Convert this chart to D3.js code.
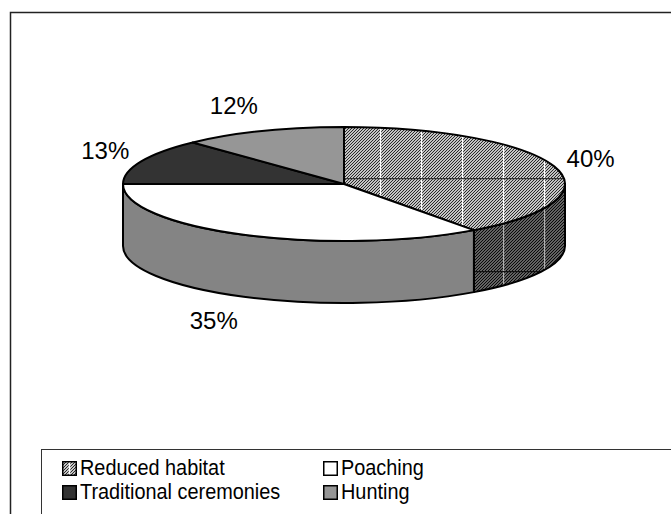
<!DOCTYPE html>
<html>
<head>
<meta charset="utf-8">
<script src="https://cdn.jsdelivr.net/npm/d3@7"></script>
<style>
  html, body { margin: 0; padding: 0; background: #fff; }
  svg { display: block; }
</style>
</head>
<body>
<svg id="chart" width="671" height="514"></svg>
<script>
// Causes of decline, share of total (%)
const categories = ["Reduced habitat", "Poaching", "Traditional ceremonies", "Hunting"];
const values = [40, 35, 13, 12];
const labels = values.map(v => v + "%");

const svg = d3.select("#chart");
const W = 671, H = 514;

// 3D pie geometry
const cx = 344, cy = 184, rx = 221, ry = 57, depth = 62;

const defs = svg.append("defs");

// fine diagonal hatch
function hatch(id, bg, fg) {
  const p = defs.append("pattern").attr("id", id)
    .attr("patternUnits", "userSpaceOnUse").attr("width", 3).attr("height", 3);
  p.append("rect").attr("width", 3).attr("height", 3).attr("fill", bg);
  p.append("path").attr("d", "M-1,1 l2,-2 M0,3 l3,-3 M2,4 l2,-2")
    .attr("stroke", fg).attr("stroke-width", 1);
}
hatch("hatchTop", "#c4c4c4", "#2a2a2a");
hatch("hatchSide", "#626262", "#0a0a0a");

// coarse plaid overlay lines
function plaid(id, vCol, hCol) {
  const p = defs.append("pattern").attr("id", id)
    .attr("patternUnits", "userSpaceOnUse").attr("width", 41).attr("height", 93)
    .attr("x", 11).attr("y", 85);
  p.append("line").attr("x1", 0.5).attr("x2", 0.5).attr("y1", 0).attr("y2", 93)
    .attr("stroke", vCol).attr("stroke-width", 1.3);
  p.append("line").attr("x1", 0).attr("x2", 41).attr("y1", 0.5).attr("y2", 0.5)
    .attr("stroke", hCol).attr("stroke-width", 1.3);
}
plaid("plaidTop", "#ffffff", "#333");
plaid("plaidSide", "#b0b0b0", "#111");

const topFill = ["url(#hatchTop)", "#ffffff", "#333333", "#969696"];
const topOverlay = ["url(#plaidTop)", null, null, null];
const sideFill = ["url(#hatchSide)", "#848484", "#262626", "#6e6e6e"];
const sideOverlay = ["url(#plaidSide)", null, null, null];

// outer frame
svg.append("rect").attr("x", 10.5).attr("y", 12.5).attr("width", W).attr("height", H)
  .attr("fill", "none").attr("stroke", "#222").attr("stroke-width", 1.5);

const pie = d3.pie().sort(null).startAngle(0).endAngle(2 * Math.PI);
const arcs = pie(values);

const px = a => cx + rx * Math.sin(a);
const py = a => cy - ry * Math.cos(a);

function topPath(d) {
  const p = d3.path();
  p.moveTo(cx, cy);
  p.lineTo(px(d.startAngle), py(d.startAngle));
  const large = (d.endAngle - d.startAngle) > Math.PI ? 1 : 0;
  return p.toString() +
    `A${rx},${ry} 0 ${large} 1 ${px(d.endAngle)},${py(d.endAngle)}Z`;
}

function sidePath(a0, a1) {
  const large = (a1 - a0) > Math.PI ? 1 : 0;
  return `M${px(a0)},${py(a0)}` +
    `A${rx},${ry} 0 ${large} 1 ${px(a1)},${py(a1)}` +
    `L${px(a1)},${py(a1) + depth}` +
    `A${rx},${ry} 0 ${large} 0 ${px(a0)},${py(a0) + depth}Z`;
}

const g = svg.append("g");

// front walls
arcs.forEach((d, i) => {
  const a0 = Math.max(d.startAngle, Math.PI / 2);
  const a1 = Math.min(d.endAngle, 3 * Math.PI / 2);
  if (a1 <= a0) return;
  const s = sidePath(a0, a1);
  g.append("path").attr("d", s).attr("fill", sideFill[i]);
  if (sideOverlay[i]) g.append("path").attr("d", s).attr("fill", sideOverlay[i]);
  g.append("path").attr("d", s).attr("fill", "none")
    .attr("stroke", "#000").attr("stroke-width", 2).attr("stroke-linejoin", "round");
});

// top faces
arcs.forEach((d, i) => {
  const t = topPath(d);
  g.append("path").attr("d", t).attr("fill", topFill[i]);
  if (topOverlay[i]) g.append("path").attr("d", t).attr("fill", topOverlay[i]);
  g.append("path").attr("d", t).attr("fill", "none")
    .attr("stroke", "#000").attr("stroke-width", 2).attr("stroke-linejoin", "round");
});

// percentage labels placed outside the rim
const lrx = 234, lry = 84;
arcs.forEach((d, i) => {
  const m = (d.startAngle + d.endAngle) / 2;
  const sx = Math.sin(m), cz = Math.cos(m);
  const x = cx + lrx * sx;
  const y = cy - lry * cz + (cz < 0 ? depth : 0);
  svg.append("text")
    .attr("x", x).attr("y", y + 8.6)
    .attr("text-anchor", sx >= 0 ? "start" : "end")
    .attr("font-family", "'Liberation Sans', Arial, sans-serif")
    .attr("font-size", 24).attr("fill", "#000")
    .text(labels[i]);
});

// legend
const lg = svg.append("g");
lg.append("rect").attr("x", 41.5).attr("y", 449.5).attr("width", W).attr("height", H)
  .attr("fill", "#fff").attr("stroke", "#333").attr("stroke-width", 1);

const legendFill = ["url(#hatchTop)", "#ffffff", "#333333", "#969696"];
const colX = [62, 323], rowY = [475, 499];
categories.forEach((c, i) => {
  const col = i % 2, row = Math.floor(i / 2);
  const sx = colX[col], sy = rowY[row] - 14;
  lg.append("rect").attr("x", sx + 0.75).attr("y", sy + 0.75).attr("width", 13.5).attr("height", 13.5)
    .attr("fill", legendFill[i]);
  if (i === 0) {
    lg.append("line").attr("x1", sx + 7.5).attr("x2", sx + 7.5).attr("y1", sy + 1).attr("y2", sy + 14)
      .attr("stroke", "#fff").attr("stroke-width", 1.5);
  }
  lg.append("rect").attr("x", sx + 0.75).attr("y", sy + 0.75).attr("width", 13.5).attr("height", 13.5)
    .attr("fill", "none").attr("stroke", "#000").attr("stroke-width", 1.5);
  // slightly condensed legend type
  lg.append("text")
    .attr("transform", `translate(${sx + 18},${rowY[row]}) scale(0.925,1)`)
    .attr("font-family", "'Liberation Sans', Arial, sans-serif")
    .attr("font-size", 21.5).attr("fill", "#000")
    .text(c);
});
</script>
</body>
</html>
